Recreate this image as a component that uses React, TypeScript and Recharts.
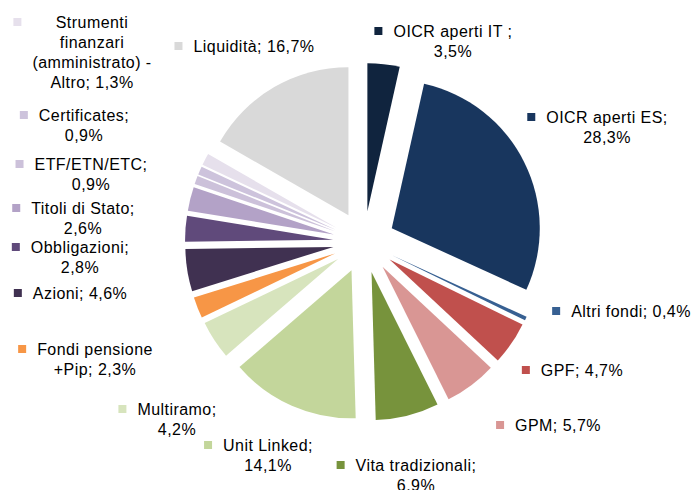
import { PieChart, Pie, Cell, Sector, Tooltip } from 'recharts'

const categories = [
  'OICR aperti IT ',
  'OICR aperti ES',
  'Altri fondi',
  'GPF',
  'GPM',
  'Vita tradizionali',
  'Unit Linked',
  'Multiramo',
  'Fondi pensione\n+Pip',
  'Azioni',
  'Obbligazioni',
  'Titoli di Stato',
  'ETF/ETN/ETC',
  'Certificates',
  'Strumenti\nfinanzari\n(amministrato) -\nAltro',
  'Liquidità',
]
const values = [3.5, 28.3, 0.4, 4.7, 5.7, 6.9, 14.1, 4.2, 2.3, 4.6, 2.8, 2.6, 0.9, 0.9, 1.3, 16.7]
const colors = [
  '#10243e', '#18365e', '#376092', '#c0504d', '#d99694', '#77933c', '#c3d69b', '#d7e4bd',
  '#f79646', '#403151', '#604a7b', '#b3a2c7', '#ccc1da', '#cdc3dc', '#e6e0ec', '#d9d9d9',
]
// whether the percentage goes on its own line
const valueOnNewLine = [true, true, false, false, false, true, true, true, false, false, true, true, true, true, false, false]

// label block: [dx of text centre, dy of first line] from pie centre
const LABEL_POS: [number, number][] = [
  [89, -211], [243, -125], [267, 69], [218, 128], [194, 183], [52, 223], [-96, 203], [-187, 167],
  [-269, 107], [-284, 51], [-284, 5], [-281, -34], [-273, -78], [-280, -127], [-272, -220], [-110, -196],
]

const data = categories.map((name, i) => ({ name, value: values[i] }))

const FONT = '"Liberation Sans", Arial, sans-serif'
const FONT_SIZE = 16
const LETTER = 0.45
const LINE_H = 20
const EXPLODE = 31

let ctx: CanvasRenderingContext2D | null = null
function textWidth(s: string) {
  if (!ctx) {
    ctx = document.createElement('canvas').getContext('2d')
    if (ctx) ctx.font = `${FONT_SIZE}px "Liberation Sans"`
  }
  const w = ctx ? ctx.measureText(s).width : s.length * 8
  return w + LETTER * s.length
}

const fmt = (v: number) => v.toFixed(1).replace('.', ',') + '%'

function labelLines(i: number) {
  const txt = valueOnNewLine[i]
    ? `${categories[i]};\n${fmt(values[i])}`
    : `${categories[i]}; ${fmt(values[i])}`
  return txt.split('\n')
}

function ExplodedSlice(props: any) {
  const { cx, cy, midAngle } = props
  const rad = (-midAngle * Math.PI) / 180
  return (
    <Sector
      {...props}
      cx={cx + EXPLODE * Math.cos(rad)}
      cy={cy + EXPLODE * Math.sin(rad)}
      stroke="none"
    />
  )
}

function renderLabel(props: any) {
  const { cx, cy, index } = props
  const [dx, dy] = LABEL_POS[index]
  const x = cx + dx
  const y = cy + dy
  const lines = labelLines(index)
  const maxW = Math.max(...lines.map(textWidth))
  const sq = 8
  return (
    <g>
      <rect x={x - maxW / 2 - 11 - sq} y={y - sq / 2} width={sq} height={sq} fill={colors[index]} />
      {lines.map((l, k) => (
        <text
          key={k}
          x={x}
          y={y + k * LINE_H}
          textAnchor="middle"
          dominantBaseline="central"
          fontFamily={FONT}
          fontSize={FONT_SIZE}
          letterSpacing={LETTER}
          fill="#000"
          style={{ whiteSpace: 'pre' }}
        >
          {l}
        </text>
      ))}
    </g>
  )
}

export default function App() {
  return (
    <div style={{ position: 'absolute', left: 0, top: 0, background: '#fff' }}>
      <PieChart width={692} height={490} margin={{ top: 0, right: 0, bottom: 0, left: 0 }}>
        <Pie
          data={data}
          dataKey="value"
          nameKey="name"
          cx={364}
          cy={242}
          outerRadius={148}
          startAngle={90}
          endAngle={-270}
          stroke="none"
          labelLine={false}
          label={renderLabel}
          shape={ExplodedSlice}
          activeShape={ExplodedSlice}
          inactiveShape={ExplodedSlice}
          isAnimationActive={false}
        >
          {data.map((d, i) => (
            <Cell key={d.name} fill={colors[i]} />
          ))}
        </Pie>
        <Tooltip defaultIndex={0} content={() => null} />
      </PieChart>
    </div>
  )
}
